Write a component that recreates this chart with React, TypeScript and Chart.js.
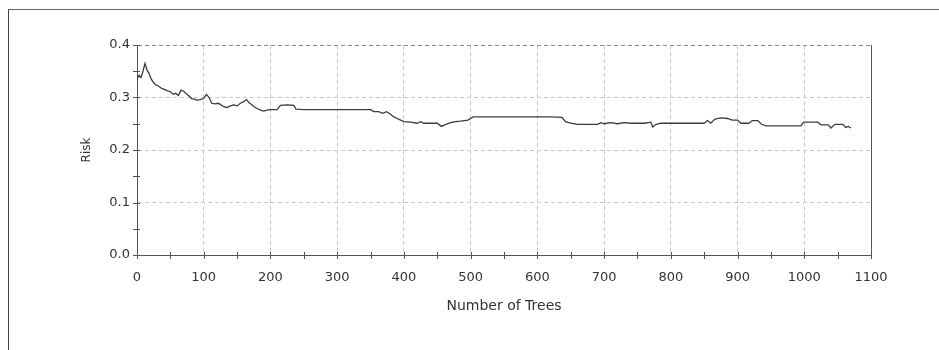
import { useEffect, useRef } from "react";
import { Chart, registerables } from "chart.js";

Chart.register(...registerables);

// Number of trees (x) and risk (y)
const trees = [
  0, 3, 6, 9, 12, 15, 18, 21, 24, 28, 32, 36, 40, 45, 50, 54, 58, 62, 66, 70,
  74, 78, 82, 86, 90, 95, 100, 104, 108, 112, 117, 122, 127, 131, 135, 140,
  145, 150, 155, 160, 164, 168, 172, 176, 180, 185, 190, 195, 200, 210, 215,
  225, 235, 238, 250, 300, 350, 355, 362, 368, 374, 380, 385, 390, 395, 400,
  410, 420, 425, 430, 450, 456, 461, 470, 477, 485, 496, 504, 550, 600, 620,
  637, 642, 650, 660, 690, 695, 700, 710, 720, 730, 740, 760, 770, 773, 778,
  785, 840, 850, 855, 860, 866, 875, 885, 892, 900, 905, 917, 922, 930, 936,
  942, 995, 999, 1020, 1025, 1036, 1040, 1046, 1058, 1062, 1066, 1070,
];
const risk = [
  0.335, 0.342, 0.338, 0.35, 0.365, 0.352, 0.346, 0.336, 0.33, 0.324, 0.322,
  0.318, 0.316, 0.313, 0.311, 0.306, 0.308, 0.304, 0.314, 0.312, 0.307, 0.303,
  0.298, 0.297, 0.295, 0.296, 0.298, 0.306, 0.3, 0.289, 0.288, 0.289, 0.285,
  0.282, 0.281, 0.284, 0.286, 0.284, 0.289, 0.292, 0.296, 0.29, 0.286, 0.282,
  0.279, 0.276, 0.274, 0.276, 0.277, 0.277, 0.285, 0.286, 0.285, 0.278, 0.277,
  0.277, 0.277, 0.273, 0.273, 0.27, 0.273, 0.268, 0.263, 0.26, 0.257, 0.254,
  0.253, 0.251, 0.254, 0.251, 0.251, 0.245, 0.248, 0.252, 0.254, 0.255, 0.257,
  0.263, 0.263, 0.263, 0.263, 0.262, 0.254, 0.251, 0.249, 0.249, 0.252, 0.25,
  0.252, 0.25, 0.252, 0.251, 0.251, 0.253, 0.244, 0.249, 0.251, 0.251, 0.251,
  0.256, 0.251, 0.259, 0.261, 0.26, 0.257, 0.257, 0.251, 0.251, 0.256, 0.256,
  0.249, 0.246, 0.246, 0.253, 0.253, 0.248, 0.248, 0.242, 0.249, 0.249, 0.243,
  0.245, 0.242,
];

const xMin = 0;
const xMax = 1100;
const xMajorStep = 100;
const xMinorStep = 50;
const yMin = 0;
const yMax = 0.4;
const yMajorStep = 0.1;
const yMinorStep = 0.05;

const xTitle = "Number of Trees";
const yTitle = "Risk";

const FONT = "'DejaVu Sans', 'Liberation Sans', Arial, sans-serif";
const AXIS = "#555";
const TEXT = "#333";

const crossTicks = {
  id: "crossTicks",
  afterDraw(chart: any) {
    const { ctx, chartArea, scales } = chart;
    const xs = scales.x;
    const ys = scales.y;
    ctx.save();
    ctx.strokeStyle = AXIS;
    ctx.lineWidth = 1;
    ctx.beginPath();
    for (let i = 0; ; i++) {
      const v = xs.min + i * xMinorStep;
      if (v > xs.max + 1e-9) break;
      const p = Math.round(xs.getPixelForValue(v)) + 0.5;
      ctx.moveTo(p, chartArea.bottom - 3);
      ctx.lineTo(p, chartArea.bottom + 4);
    }
    for (let i = 0; ; i++) {
      const v = ys.min + i * yMinorStep;
      if (v > ys.max + 1e-9) break;
      const p = Math.round(ys.getPixelForValue(v)) + 0.5;
      ctx.moveTo(chartArea.left - 4, p);
      ctx.lineTo(chartArea.left + 3, p);
    }
    const r = Math.round(chartArea.right) + 0.5;
    ctx.moveTo(r, chartArea.top);
    ctx.lineTo(r, chartArea.bottom);
    ctx.stroke();
    ctx.restore();
  },
};

export default function App() {
  const ref = useRef<HTMLCanvasElement | null>(null);

  useEffect(() => {
    if (!ref.current) return;
    const points = trees.map((t, i) => ({ x: t, y: risk[i] }));
    const chart = new Chart(ref.current, {
      type: "line",
      data: {
        datasets: [
          {
            data: points,
            borderColor: "#3c3c3c",
            borderWidth: 1.3,
            pointRadius: 0,
            tension: 0,
            fill: false,
          },
        ],
      },
      options: {
        animation: false,
        responsive: false,
        layout: { padding: { left: 80, right: 68, top: 45, bottom: 35 } },
        plugins: { legend: { display: false }, tooltip: { enabled: false } },
        scales: {
          x: {
            type: "linear",
            min: xMin,
            max: xMax,
            afterFit: (s: any) => {
              s.height = 60;
            },
            ticks: {
              stepSize: xMajorStep,
              autoSkip: false,
              maxRotation: 0,
              padding: 15,
              color: TEXT,
              font: { family: FONT, size: 13 },
              callback: (v: any) => String(Math.round(Number(v))),
            },
            grid: {
              drawTicks: false,
              color: "#c8c8c8",
              lineWidth: 1,
            },
            border: { display: true, color: AXIS, width: 1, dash: [4, 3] },
            title: {
              display: true,
              text: xTitle,
              color: TEXT,
              padding: { top: 0, bottom: 0 },
              font: { family: FONT, size: 14 },
            },
          },
          y: {
            type: "linear",
            min: yMin,
            max: yMax,
            afterFit: (s: any) => {
              s.width = 57;
            },
            ticks: {
              stepSize: yMajorStep,
              padding: 7,
              color: TEXT,
              font: { family: FONT, size: 13 },
              callback: (v: any) => Number(v).toFixed(1),
            },
            grid: {
              drawTicks: false,
              color: (c: any) =>
                c.tick && Math.abs(c.tick.value - yMax) < 1e-9 ? "#8a8a8a" : "#c8c8c8",
              lineWidth: 1,
            },
            border: { display: true, color: AXIS, width: 1, dash: [4, 3] },
            title: {
              display: true,
              text: yTitle,
              color: TEXT,
              padding: { top: 0, bottom: 0 },
              font: { family: FONT, size: 12 },
            },
          },
        },
      },
      plugins: [crossTicks],
    });
    return () => chart.destroy();
  }, []);

  return (
    <div style={{ position: "absolute", left: 0, top: 0, width: 939, height: 350, background: "#fff" }}>
      <div
        style={{
          position: "absolute",
          left: 8,
          top: 9,
          width: 931,
          height: 341,
          borderTop: "1px solid #666",
          borderLeft: "1px solid #444",
          boxSizing: "border-box",
        }}
      />
      <canvas ref={ref} width={939} height={350} style={{ position: "absolute", left: 0, top: 0 }} />
    </div>
  );
}
